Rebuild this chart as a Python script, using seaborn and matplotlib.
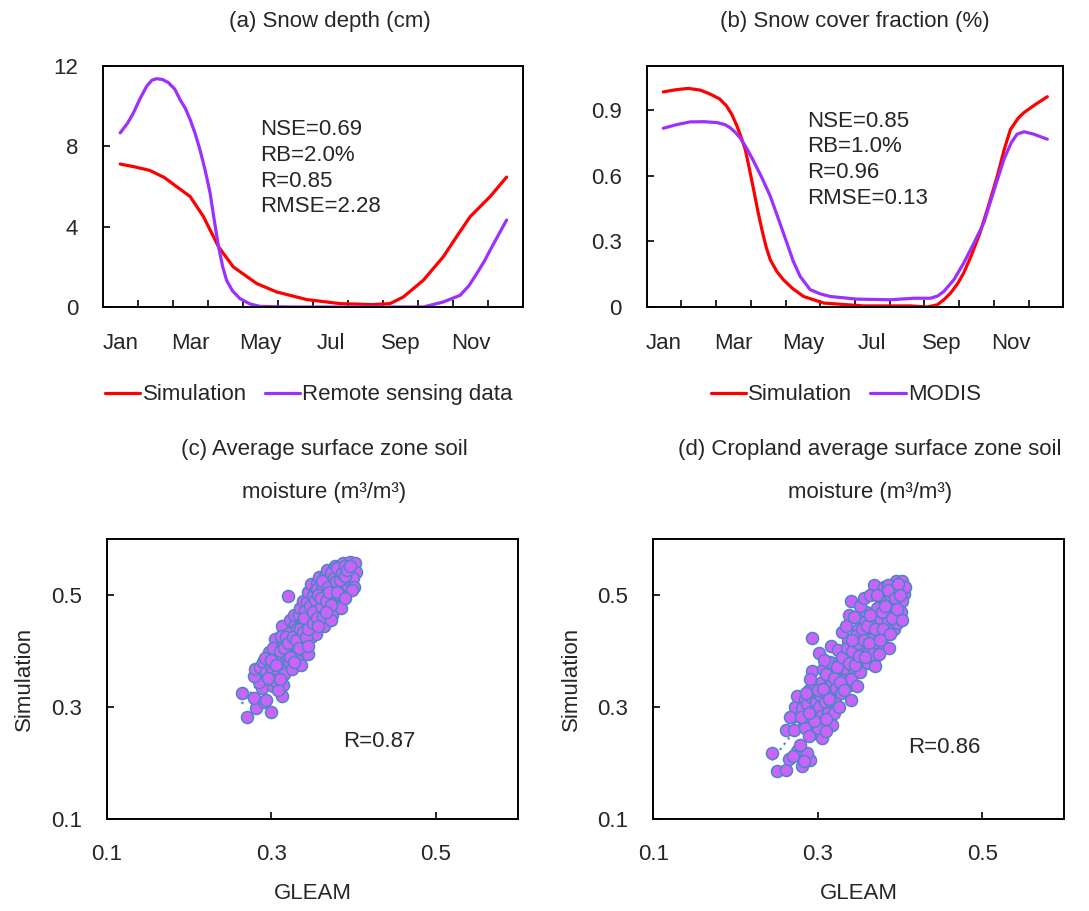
import numpy as np
import pandas as pd
import matplotlib
matplotlib.use("Agg")
import matplotlib.pyplot as plt
import seaborn as sns

# ---------------- data ----------------
# x positions in month units (Jan centre = 0.5, Dec centre = 11.5)
depth_sim_x = [0.49, 0.90, 1.34, 1.75, 2.10, 2.49, 2.87, 3.30, 3.72, 4.39, 4.96, 5.82, 6.77, 7.72,
               8.20, 8.58, 9.15, 9.72, 10.10, 10.49, 11.06, 11.53]
depth_sim_y = [7.12, 6.98, 6.80, 6.45, 6.00, 5.50, 4.50, 3.00, 2.00, 1.17, 0.75, 0.37, 0.17, 0.12,
               0.17, 0.50, 1.33, 2.50, 3.50, 4.50, 5.50, 6.47]
depth_rs_x = [0.49, 0.70, 0.87, 1.05, 1.25, 1.40, 1.53, 1.70, 1.87, 2.05, 2.20, 2.35, 2.49, 2.63,
              2.77, 2.92, 3.06, 3.18, 3.30, 3.42, 3.53, 3.70, 3.91, 4.20, 4.49, 5.40, 7.00, 9.15,
              9.72, 10.20, 10.45, 10.68, 10.90, 11.06, 11.30, 11.53]
depth_rs_y = [8.67, 9.15, 9.67, 10.35, 11.00, 11.30, 11.37, 11.33, 11.17, 10.85, 10.33, 9.90, 9.33,
              8.65, 7.83, 6.80, 5.67, 4.30, 3.00, 2.00, 1.33, 0.80, 0.42, 0.15, 0.03, 0.00, 0.00,
              0.00, 0.25, 0.58, 1.05, 1.67, 2.30, 2.83, 3.60, 4.33]

scf_sim_x = [0.48, 0.85, 1.20, 1.55, 1.83, 2.10, 2.30, 2.45, 2.60, 2.72, 2.84, 2.96, 3.08, 3.20,
             3.32, 3.44, 3.56, 3.75, 3.94, 4.20, 4.52, 5.10, 6.25, 7.60, 8.08, 8.37, 8.55, 8.75,
             8.95, 9.13, 9.35, 9.60, 9.85, 10.10, 10.30, 10.48, 10.70, 10.87, 11.20, 11.54]
scf_sim_y = [0.982, 0.992, 0.998, 0.990, 0.972, 0.950, 0.918, 0.880, 0.827, 0.775, 0.720, 0.630,
             0.537, 0.440, 0.353, 0.275, 0.216, 0.162, 0.124, 0.085, 0.048, 0.018, 0.005, 0.005,
             0.000, 0.010, 0.032, 0.063, 0.105, 0.155, 0.235, 0.338, 0.465, 0.598, 0.720, 0.811,
             0.862, 0.888, 0.925, 0.960]
scf_modis_x = [0.48, 0.85, 1.25, 1.65, 2.02, 2.25, 2.40, 2.55, 2.69, 2.88, 3.08, 3.32, 3.56, 3.80,
               4.04, 4.22, 4.42, 4.71, 5.00, 5.29, 6.06, 7.02, 7.69, 8.17, 8.38, 8.56, 8.85, 9.13,
               9.42, 9.71, 10.00, 10.29, 10.50, 10.67, 10.87, 11.15, 11.54]
scf_modis_y = [0.816, 0.832, 0.845, 0.846, 0.842, 0.833, 0.819, 0.798, 0.773, 0.725, 0.666, 0.590,
               0.506, 0.400, 0.292, 0.210, 0.140, 0.079, 0.060, 0.048, 0.036, 0.033, 0.040, 0.040,
               0.050, 0.071, 0.125, 0.200, 0.290, 0.384, 0.530, 0.674, 0.750, 0.789, 0.800, 0.789,
               0.766]

month_labels = ["Jan", "Mar", "May", "Jul", "Sep", "Nov"]

# soil moisture scatter (GLEAM, Simulation)
sm_avg = [
    (0.264, 0.325), (0.270, 0.283), (0.281, 0.298), (0.279, 0.316), (0.291, 0.310), (0.2995, 0.292),
    (0.289, 0.334), (0.2935, 0.312), (0.302, 0.337), (0.313, 0.319), (0.314, 0.340), (0.308, 0.330),
    (0.285, 0.345), (0.279, 0.355), (0.280, 0.368), (0.320, 0.498),
    (0.286, 0.372), (0.290, 0.380), (0.293, 0.362), (0.296, 0.390), (0.299, 0.372), (0.297, 0.398),
    (0.292, 0.388),
    (0.301, 0.362), (0.303, 0.381), (0.305, 0.398), (0.307, 0.410), (0.304, 0.422), (0.309, 0.372),
    (0.306, 0.355), (0.309, 0.392), (0.302, 0.405),
    (0.311, 0.385), (0.312, 0.402), (0.314, 0.418), (0.316, 0.432), (0.313, 0.445), (0.318, 0.371),
    (0.317, 0.395), (0.319, 0.412), (0.315, 0.360), (0.312, 0.428),
    (0.321, 0.380), (0.322, 0.400), (0.324, 0.421), (0.326, 0.438), (0.323, 0.455), (0.328, 0.392),
    (0.327, 0.412), (0.329, 0.448), (0.325, 0.368), (0.321, 0.432), (0.328, 0.465),
    (0.331, 0.392), (0.332, 0.412), (0.334, 0.430), (0.336, 0.448), (0.333, 0.465), (0.338, 0.402),
    (0.337, 0.422), (0.339, 0.455), (0.335, 0.478), (0.331, 0.440), (0.338, 0.490), (0.336, 0.375),
    (0.341, 0.415), (0.342, 0.435), (0.344, 0.452), (0.346, 0.470), (0.343, 0.488), (0.348, 0.425),
    (0.347, 0.445), (0.349, 0.462), (0.345, 0.505), (0.341, 0.472), (0.348, 0.520), (0.344, 0.395),
    (0.349, 0.482),
    (0.351, 0.440), (0.352, 0.458), (0.354, 0.475), (0.356, 0.492), (0.353, 0.508), (0.358, 0.448),
    (0.357, 0.468), (0.359, 0.485), (0.355, 0.522), (0.351, 0.498), (0.358, 0.532), (0.354, 0.430),
    (0.356, 0.512),
    (0.361, 0.455), (0.362, 0.472), (0.364, 0.490), (0.366, 0.505), (0.363, 0.520), (0.368, 0.462),
    (0.367, 0.482), (0.369, 0.498), (0.365, 0.535), (0.361, 0.512), (0.368, 0.528), (0.364, 0.445),
    (0.367, 0.545),
    (0.371, 0.470), (0.372, 0.488), (0.374, 0.503), (0.376, 0.518), (0.373, 0.532), (0.378, 0.478),
    (0.377, 0.495), (0.379, 0.512), (0.375, 0.545), (0.371, 0.525), (0.378, 0.538), (0.374, 0.465),
    (0.377, 0.552),
    (0.381, 0.485), (0.382, 0.500), (0.384, 0.515), (0.386, 0.528), (0.383, 0.542), (0.388, 0.495),
    (0.387, 0.510), (0.389, 0.525), (0.385, 0.553), (0.381, 0.535), (0.388, 0.545), (0.384, 0.478),
    (0.387, 0.558),
    (0.391, 0.505), (0.392, 0.518), (0.394, 0.530), (0.396, 0.542), (0.393, 0.553), (0.398, 0.522),
    (0.397, 0.535), (0.399, 0.548), (0.395, 0.560), (0.401, 0.557), (0.403, 0.542), (0.399, 0.530),
    (0.400, 0.515),
    (0.300, 0.385), (0.306, 0.375), (0.310, 0.400), (0.315, 0.405), (0.318, 0.425), (0.320, 0.415),
    (0.323, 0.390), (0.326, 0.425), (0.330, 0.420), (0.333, 0.405), (0.335, 0.440), (0.338, 0.435),
    (0.340, 0.460), (0.342, 0.425), (0.345, 0.440), (0.347, 0.480), (0.350, 0.470), (0.350, 0.450),
    (0.353, 0.492), (0.355, 0.460), (0.357, 0.500), (0.360, 0.480), (0.360, 0.495), (0.362, 0.525),
    (0.363, 0.462), (0.366, 0.490), (0.369, 0.515), (0.370, 0.505), (0.372, 0.540), (0.373, 0.482),
    (0.376, 0.530), (0.379, 0.525), (0.380, 0.548), (0.380, 0.505), (0.383, 0.528), (0.386, 0.540),
    (0.389, 0.552), (0.390, 0.535), (0.392, 0.545), (0.396, 0.553), (0.398, 0.510), (0.302, 0.348),
    (0.310, 0.350), (0.296, 0.352), (0.327, 0.380), (0.344, 0.410), (0.357, 0.445), (0.372, 0.455),
    (0.390, 0.495), (0.366, 0.470),
]
sm_crop = [
    (0.244, 0.218), (0.250, 0.185), (0.261, 0.187), (0.265, 0.207), (0.275, 0.221), (0.281, 0.194),
    (0.291, 0.206), (0.287, 0.218), (0.270, 0.213), (0.278, 0.232), (0.283, 0.203),
    (0.261, 0.259), (0.271, 0.259), (0.269, 0.283), (0.283, 0.271), (0.295, 0.253), (0.305, 0.245),
    (0.318, 0.268), (0.273, 0.301), (0.275, 0.319), (0.266, 0.282), (0.285, 0.262), (0.300, 0.262),
    (0.310, 0.258), (0.290, 0.248),
    (0.293, 0.423), (0.301, 0.396), (0.316, 0.409),
    (0.281, 0.298), (0.284, 0.315), (0.287, 0.305), (0.289, 0.330), (0.292, 0.318), (0.293, 0.364),
    (0.295, 0.295), (0.297, 0.340), (0.298, 0.310), (0.286, 0.325), (0.291, 0.350),
    (0.301, 0.300), (0.303, 0.322), (0.305, 0.345), (0.307, 0.368), (0.309, 0.310), (0.311, 0.335),
    (0.313, 0.356), (0.315, 0.380), (0.317, 0.300), (0.319, 0.325), (0.304, 0.285), (0.312, 0.290),
    (0.318, 0.345), (0.308, 0.385),
    (0.321, 0.310), (0.322, 0.335), (0.324, 0.358), (0.326, 0.380), (0.328, 0.325), (0.330, 0.348),
    (0.331, 0.400), (0.333, 0.370), (0.335, 0.392), (0.337, 0.418), (0.339, 0.340), (0.330, 0.435),
    (0.338, 0.465), (0.340, 0.489), (0.325, 0.402), (0.320, 0.289), (0.340, 0.313), (0.334, 0.445),
    (0.341, 0.350), (0.343, 0.372), (0.345, 0.395), (0.347, 0.418), (0.349, 0.440), (0.351, 0.362),
    (0.353, 0.385), (0.355, 0.408), (0.357, 0.432), (0.359, 0.470), (0.344, 0.462), (0.352, 0.480),
    (0.348, 0.338), (0.356, 0.495), (0.346, 0.428), (0.358, 0.452),
    (0.361, 0.378), (0.363, 0.400), (0.365, 0.422), (0.367, 0.445), (0.369, 0.468), (0.371, 0.392),
    (0.373, 0.415), (0.375, 0.438), (0.377, 0.490), (0.368, 0.518), (0.379, 0.505), (0.370, 0.373),
    (0.364, 0.500), (0.372, 0.478), (0.376, 0.460), (0.381, 0.515),
    (0.381, 0.410), (0.383, 0.432), (0.385, 0.455), (0.387, 0.405), (0.389, 0.478), (0.391, 0.480),
    (0.393, 0.440), (0.395, 0.462), (0.397, 0.450), (0.384, 0.495), (0.388, 0.500), (0.392, 0.505),
    (0.395, 0.526), (0.386, 0.518),
    (0.403, 0.526), (0.405, 0.503), (0.403, 0.489), (0.401, 0.470), (0.399, 0.512), (0.406, 0.515),
    (0.300, 0.330), (0.306, 0.332), (0.310, 0.360), (0.314, 0.315), (0.320, 0.352), (0.323, 0.372),
    (0.327, 0.345), (0.330, 0.390), (0.332, 0.330), (0.336, 0.405), (0.338, 0.378), (0.342, 0.400),
    (0.345, 0.375), (0.349, 0.415), (0.350, 0.392), (0.354, 0.440), (0.356, 0.420), (0.360, 0.445),
    (0.362, 0.415), (0.364, 0.465), (0.366, 0.395), (0.370, 0.440), (0.372, 0.500), (0.374, 0.395),
    (0.378, 0.470), (0.380, 0.440), (0.382, 0.480), (0.385, 0.510), (0.388, 0.430), (0.390, 0.460),
    (0.394, 0.495), (0.396, 0.475), (0.398, 0.520), (0.400, 0.500), (0.402, 0.455), (0.376, 0.420),
    (0.358, 0.390), (0.342, 0.420), (0.326, 0.300), (0.296, 0.275), (0.280, 0.282), (0.289, 0.290),
    (0.310, 0.278),
]

# ---------------- style ----------------
sns.set_theme(style="ticks")
plt.rcParams['font.family'] = ['Liberation Sans', 'DejaVu Sans']
plt.rcParams['axes.linewidth'] = 1.4
plt.rcParams['axes.edgecolor'] = 'black'
FS = 16
RED = "#FF0000"
PURPLE = "#9B30FF"
DOT_FILL = "#CA64F8"
DOT_EDGE = "#4A86C5"

fig = plt.figure(figsize=(10.89, 9.11), dpi=100)
ax_a = fig.add_axes([0.0946, 0.663, 0.3857, 0.2645])
ax_b = fig.add_axes([0.5938, 0.663, 0.3826, 0.2645])
ax_c = fig.add_axes([0.0980, 0.101, 0.3780, 0.3070])
ax_d = fig.add_axes([0.5999, 0.101, 0.3774, 0.3070])


def month_axis(ax):
    ax.set_xlim(0, 12)
    ax.set_xticks(range(1, 12))
    ax.set_xticklabels([])
    ax.set_xticks([0.5, 2.5, 4.5, 6.5, 8.5, 10.5], minor=True)
    ax.set_xticklabels(month_labels, minor=True)
    ax.tick_params(axis='x', which='major', direction='in', length=5, width=1.4)
    ax.tick_params(axis='x', which='minor', length=0, pad=19, labelsize=FS)
    ax.tick_params(axis='y', direction='in', length=5, width=1.4, pad=18, labelsize=FS)


# --- (a) snow depth ---
sns.lineplot(x=depth_sim_x, y=depth_sim_y, ax=ax_a, color=RED, lw=2.3, label="Simulation")
sns.lineplot(x=depth_rs_x, y=depth_rs_y, ax=ax_a, color=PURPLE, lw=2.3, label="Remote sensing data")
month_axis(ax_a)
ax_a.set_ylim(0, 12)
ax_a.set_yticks([0, 4, 8, 12])
ax_a.set_title("(a) Snow depth (cm)", fontsize=FS, pad=28, x=0.54)
ax_a.text(0.374, 0.78, "NSE=0.69\nRB=2.0%\nR=0.85\nRMSE=2.28", transform=ax_a.transAxes,
          fontsize=FS, va='top', ha='left', linespacing=1.3)
ax_a.legend(loc='center', bbox_to_anchor=(0.49, -0.365), ncol=2, frameon=False, fontsize=FS,
            handlelength=1.6, handletextpad=0.1, columnspacing=0.8)

# --- (b) snow cover fraction ---
sns.lineplot(x=scf_sim_x, y=scf_sim_y, ax=ax_b, color=RED, lw=2.3, label="Simulation")
sns.lineplot(x=scf_modis_x, y=scf_modis_y, ax=ax_b, color=PURPLE, lw=2.3, label="MODIS")
month_axis(ax_b)
ax_b.set_ylim(0, 1.1)
ax_b.set_yticks([0, 0.3, 0.6, 0.9])
ax_b.set_yticklabels(["0", "0.3", "0.6", "0.9"])
ax_b.set_title("(b) Snow cover fraction (%)", fontsize=FS, pad=28, x=0.5)
ax_b.text(0.3855, 0.815, "NSE=0.85\nRB=1.0%\nR=0.96\nRMSE=0.13", transform=ax_b.transAxes,
          fontsize=FS, va='top', ha='left', linespacing=1.3)
ax_b.legend(loc='center', bbox_to_anchor=(0.478, -0.365), ncol=2, frameon=False, fontsize=FS,
            handlelength=1.6, handletextpad=0.1, columnspacing=0.8)

for ax in (ax_a, ax_b):
    ax.set_xlabel("")
    ax.set_ylabel("")


# --- (c), (d) soil moisture scatter ---
def scatter_panel(ax, pts, title, rtext, rpos, tx):
    df = pd.DataFrame(pts, columns=["GLEAM", "Simulation"])
    sns.regplot(data=df, x="GLEAM", y="Simulation", ax=ax, scatter=False, ci=None,
                line_kws=dict(color=DOT_EDGE, lw=1.6, ls=(0, (1, 2))))
    sns.scatterplot(data=df, x="GLEAM", y="Simulation", ax=ax, s=75, color=DOT_FILL,
                    edgecolor=DOT_EDGE, linewidth=1.1, zorder=3)
    ax.set_xlim(0.1, 0.6)
    ax.set_ylim(0.1, 0.6)
    ax.set_xticks([0.1, 0.3, 0.5])
    ax.set_yticks([0.1, 0.3, 0.5])
    ax.set_xticklabels(["0.1", "0.3", "0.5"])
    ax.set_yticklabels(["0.1", "0.3", "0.5"])
    ax.tick_params(direction='in', length=5, width=1.4, pad=18, labelsize=FS)
    ax.set_xlabel("GLEAM", fontsize=FS, labelpad=13)
    ax.set_ylabel("Simulation", fontsize=FS, labelpad=11)
    ax.set_title(title, fontsize=FS, pad=30, x=tx, linespacing=2.35)
    ax.text(rpos[0], rpos[1], rtext, transform=ax.transAxes, fontsize=FS, va='center', ha='left')


scatter_panel(ax_c, sm_avg, "(c) Average surface zone soil\nmoisture (m\u00b3/m\u00b3)",
              "R=0.87", (0.574, 0.276), 0.528)
scatter_panel(ax_d, sm_crop, "(d) Cropland average surface zone soil\nmoisture (m\u00b3/m\u00b3)",
              "R=0.86", (0.62, 0.256), 0.527)

fig.savefig("out.png", dpi=100)
